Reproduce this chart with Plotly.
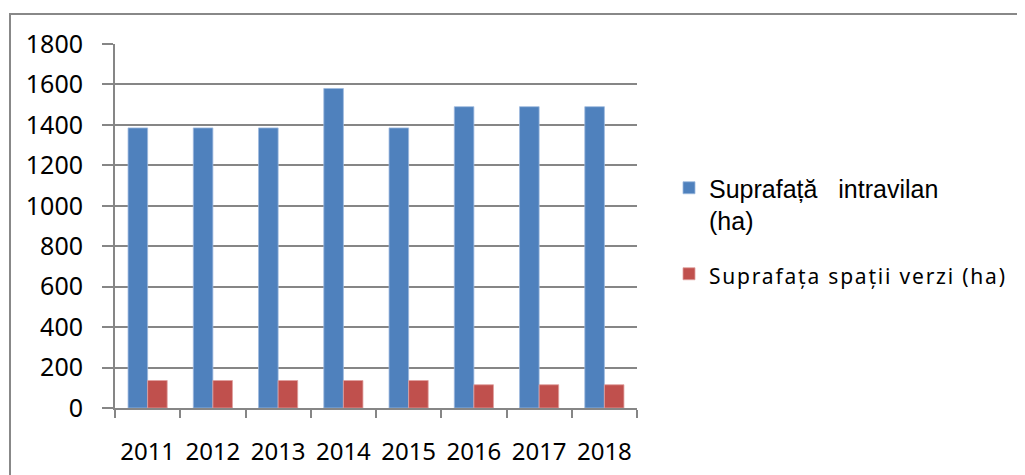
import plotly.graph_objects as go

years = ["2011", "2012", "2013", "2014", "2015", "2016", "2017", "2018"]
intravilan = [1385, 1385, 1385, 1580, 1385, 1490, 1490, 1490]
spatii_verzi = [136, 136, 136, 136, 136, 115, 115, 115]
y_ticks = [0, 200, 400, 600, 800, 1000, 1200, 1400, 1600, 1800]

OFF = 8  # page body margin
W, H = 1025 - OFF, 475 - OFF
L, T = 115 - OFF, 44 - OFF
R = 1025 - 637
B = 475 - 408.5
pw = W - L - R
ph = H - T - B

def px_x(p):
    return (p - OFF - L) / pw

def px_y(p):
    return (H - B - (p - OFF)) / ph

fig = go.Figure()
fig.add_trace(go.Bar(
    x=years, y=intravilan,
    name="Suprafață&nbsp;&nbsp; intravilan<br>(ha)",
    legendgroup="a",
    marker=dict(color="#4F81BD", line=dict(color="#9DB9DE", width=0.8)),
))
fig.add_trace(go.Bar(
    x=years, y=spatii_verzi,
    name='<span style="font-family:Noto Sans;font-size:21px;letter-spacing:1.8px">Suprafața spații verzi (ha)</span>',
    legendgroup="b",
    marker=dict(color="#C0504D", line=dict(color="#E0A09E", width=0.8)),
))

grid = "#868686"
fig.update_layout(
    width=W, height=H,
    margin=dict(l=L, r=R, t=T, b=B, autoexpand=False),
    paper_bgcolor="white", plot_bgcolor="white",
    barmode="group", bargap=0.4, bargroupgap=0,
    font=dict(family="Noto Sans", size=25, color="black"),
    showlegend=True,
    legend=dict(
        xref="container", yref="container",
        x=(669 - OFF) / W, y=1 - (165 - OFF) / H, xanchor="left", yanchor="top",
        font=dict(family="Liberation Sans", size=25, color="black"),
        valign="top", tracegroupgap=18, bgcolor="rgba(0,0,0,0)",
    ),
    xaxis=dict(
        type="category", tickson="boundaries", ticks="outside", ticklen=8,
        tickcolor=grid, tickwidth=2, showline=True, linecolor=grid, linewidth=2,
        showgrid=False, tickfont=dict(family="Noto Sans", size=24),
        ticklabelstandoff=21, tickangle=0, automargin=False,
    ),
    yaxis=dict(
        range=[0, 1800], tickvals=y_ticks, ticktext=[str(v) for v in y_ticks],
        ticks="outside", ticklen=11, tickcolor=grid, tickwidth=2,
        showline=True, linecolor=grid, linewidth=2,
        showgrid=True, gridcolor=grid, gridwidth=2, zeroline=False,
        tickfont=dict(family="Noto Sans", size=25), ticklabelstandoff=14,
        automargin=False,
    ),
    shapes=[dict(
        type="rect", xref="paper", yref="paper",
        x0=px_x(10), x1=px_x(1040), y0=px_y(14), y1=px_y(490),
        line=dict(color="#888888", width=2), fillcolor="rgba(0,0,0,0)", layer="below",
    )],
)

fig.write_html("out.html")
